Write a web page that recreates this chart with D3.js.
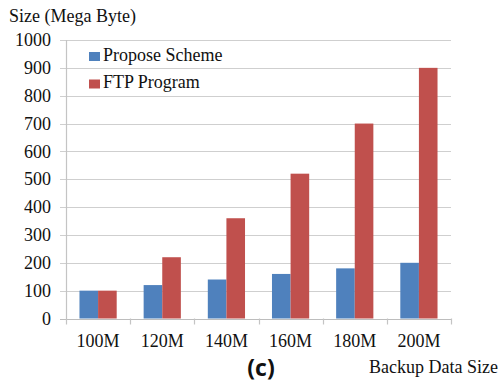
<!DOCTYPE html>
<html>
<head>
<meta charset="utf-8">
<script src="https://cdn.jsdelivr.net/npm/d3@7/dist/d3.min.js"></script>
<style>
  html, body { margin: 0; padding: 0; background: #fff; }
  svg { display: block; }
  .serif { font-family: "Liberation Serif", "Times New Roman", serif; fill: #111; }
</style>
</head>
<body>
<svg id="chart" width="501" height="383"></svg>
<script>
// Backup size comparison data
const categories = ["100M", "120M", "140M", "160M", "180M", "200M"];
const seriesNames = ["Propose Scheme", "FTP Program"];
const proposeScheme = [100, 120, 140, 160, 180, 200];
const ftpProgram = [100, 220, 360, 520, 700, 900];
const yTicks = [0, 100, 200, 300, 400, 500, 600, 700, 800, 900, 1000];
const colors = ["#4F81BD", "#C0504D"];

const seriesValues = [proposeScheme, ftpProgram];
const rows = categories.map((c, i) => ({
  category: c,
  values: seriesNames.map((s, j) => ({ series: s, value: seriesValues[j][i], color: colors[j] }))
}));

const svg = d3.select("#chart");
const plot = { left: 66, right: 451, top: 40, bottom: 318.5 };

const x = d3.scaleBand().domain(categories).range([plot.left, plot.right]).padding(0);
const xInner = d3.scaleBand().domain(seriesNames)
  .range([x.bandwidth() * 0.21, x.bandwidth() * 0.79]).padding(0);
const y = d3.scaleLinear().domain([0, 1000]).range([plot.bottom, plot.top]);

// Horizontal gridlines with short outward ticks
svg.append("g")
  .selectAll("line")
  .data(yTicks)
  .join("line")
  .attr("x1", plot.left - 6)
  .attr("x2", plot.right)
  .attr("y1", d => Math.round(y(d)) + 0.5)
  .attr("y2", d => Math.round(y(d)) + 0.5)
  .attr("stroke", d => d === 0 ? "#bdbdbd" : "#cfcfcf")
  .attr("stroke-width", 1.2);

// Y tick labels
svg.append("g")
  .selectAll("text")
  .data(yTicks)
  .join("text")
  .attr("class", "serif")
  .attr("x", 51)
  .attr("y", d => y(d))
  .attr("dy", "0.34em")
  .attr("text-anchor", "end")
  .attr("font-size", 18)
  .text(d => d);

// Vertical axis line
svg.append("line")
  .attr("x1", plot.left + 0.5).attr("x2", plot.left + 0.5)
  .attr("y1", plot.top).attr("y2", plot.bottom + 6)
  .attr("stroke", "#c4c4c4").attr("stroke-width", 1.2);

// Category boundary ticks below the axis
const boundaries = categories.map(c => x(c)).concat([plot.right]);
svg.append("g")
  .selectAll("line")
  .data(boundaries.slice(1))
  .join("line")
  .attr("x1", d => Math.round(d) + 0.5).attr("x2", d => Math.round(d) + 0.5)
  .attr("y1", plot.bottom).attr("y2", plot.bottom + 6)
  .attr("stroke", "#c4c4c4").attr("stroke-width", 1.2);

// Bars
const groups = svg.append("g")
  .selectAll("g")
  .data(rows)
  .join("g")
  .attr("transform", d => `translate(${x(d.category)},0)`);

groups.selectAll("rect")
  .data(d => d.values)
  .join("rect")
  .attr("x", d => xInner(d.series))
  .attr("width", xInner.bandwidth())
  .attr("y", d => y(d.value))
  .attr("height", d => y(0) - y(d.value))
  .attr("fill", d => d.color);

// X tick labels
svg.append("g")
  .selectAll("text")
  .data(categories)
  .join("text")
  .attr("class", "serif")
  .attr("x", d => x(d) + x.bandwidth() / 2)
  .attr("y", 347)
  .attr("text-anchor", "middle")
  .attr("font-size", 18)
  .text(d => d);

// Axis titles
svg.append("text")
  .attr("class", "serif")
  .attr("x", 9).attr("y", 22)
  .attr("font-size", 18)
  .text("Size (Mega Byte)");

svg.append("text")
  .attr("class", "serif")
  .attr("x", 498).attr("y", 373)
  .attr("text-anchor", "end")
  .attr("font-size", 18)
  .text("Backup Data Size");

// Panel label
svg.append("text")
  .attr("x", 261).attr("y", 376)
  .attr("text-anchor", "middle")
  .attr("font-family", "'Open Sans', 'Noto Sans', sans-serif")
  .attr("font-weight", "bold")
  .attr("font-size", 23)
  .attr("fill", "#111")
  .text("(c)");

// Legend
const legend = svg.append("g")
  .selectAll("g")
  .data(seriesNames)
  .join("g")
  .attr("transform", (d, i) => `translate(89,${52 + i * 27.5})`);

legend.append("rect")
  .attr("width", 11).attr("height", 9)
  .attr("fill", (d, i) => colors[i]);

legend.append("text")
  .attr("class", "serif")
  .attr("x", 14).attr("y", 8.5)
  .attr("font-size", 18)
  .text(d => d);
</script>
</body>
</html>
